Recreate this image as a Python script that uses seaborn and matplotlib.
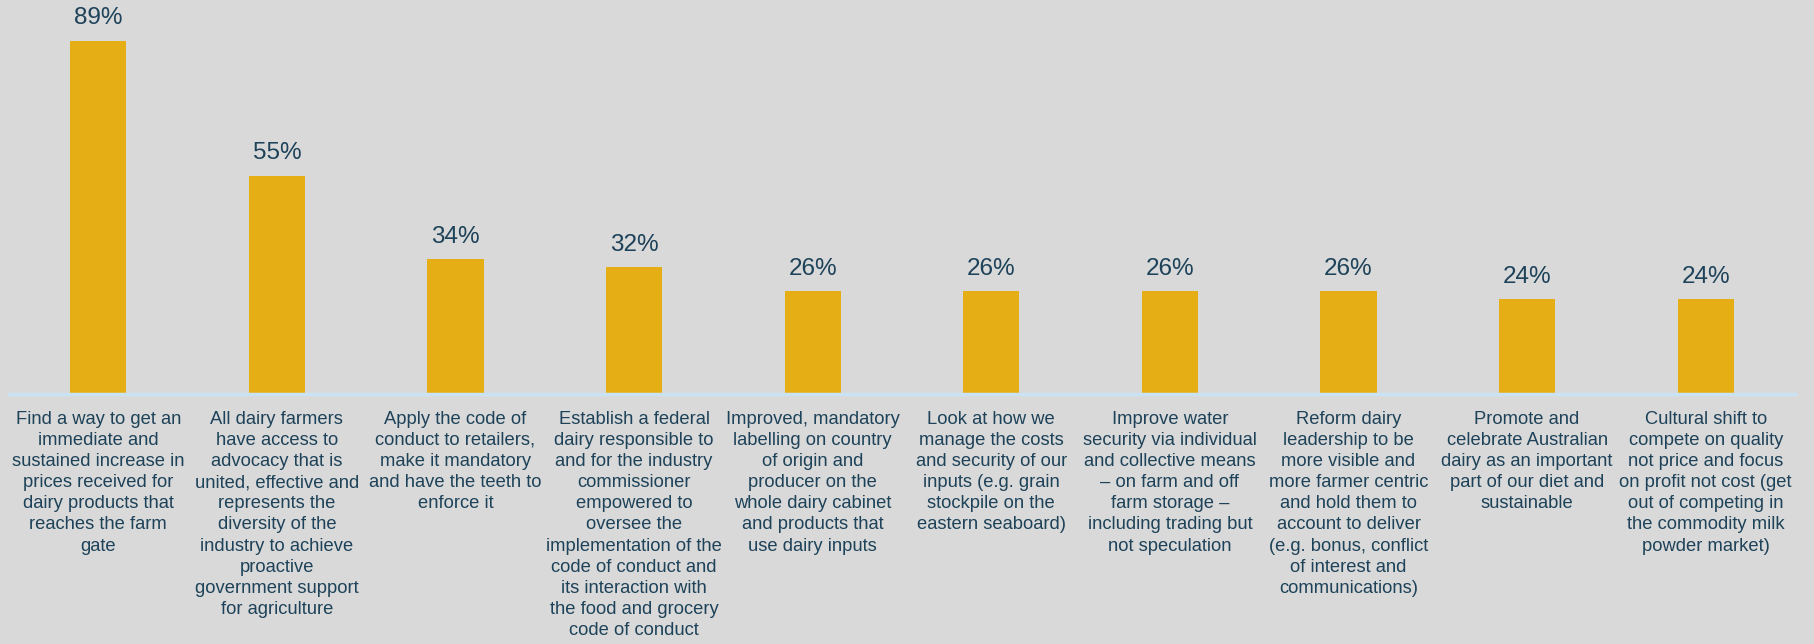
import matplotlib
matplotlib.use("Agg")
import matplotlib.pyplot as plt
import seaborn as sns
import pandas as pd

categories = [
    "Find a way to get an\nimmediate and\nsustained increase in\nprices received for\ndairy products that\nreaches the farm\ngate",
    "All dairy farmers\nhave access to\nadvocacy that is\nunited, effective and\nrepresents the\ndiversity of the\nindustry to achieve\nproactive\ngovernment support\nfor agriculture",
    "Apply the code of\nconduct to retailers,\nmake it mandatory\nand have the teeth to\nenforce it",
    "Establish a federal\ndairy responsible to\nand for the industry\ncommissioner\nempowered to\noversee the\nimplementation of the\ncode of conduct and\nits interaction with\nthe food and grocery\ncode of conduct",
    "Improved, mandatory\nlabelling on country\nof origin and\nproducer on the\nwhole dairy cabinet\nand products that\nuse dairy inputs",
    "Look at how we\nmanage the costs\nand security of our\ninputs (e.g. grain\nstockpile on the\neastern seaboard)",
    "Improve water\nsecurity via individual\nand collective means\n– on farm and off\nfarm storage –\nincluding trading but\nnot speculation",
    "Reform dairy\nleadership to be\nmore visible and\nmore farmer centric\nand hold them to\naccount to deliver\n(e.g. bonus, conflict\nof interest and\ncommunications)",
    "Promote and\ncelebrate Australian\ndairy as an important\npart of our diet and\nsustainable",
    "Cultural shift to\ncompete on quality\nnot price and focus\non profit not cost (get\nout of competing in\nthe commodity milk\npowder market)",
]
values = [89, 55, 34, 32, 26, 26, 26, 26, 24, 24]

BG = "#d9d9d9"
BAR = "#e5ae14"
TXT = "#1d4259"
AXIS = "#c9e3f5"

sns.set_theme(style="white")
plt.rcParams["font.family"] = ["Liberation Sans", "DejaVu Sans"]

df = pd.DataFrame({"cat": categories, "val": values})

fig = plt.figure(figsize=(18.14, 6.44), dpi=100, facecolor=BG)
ax = fig.add_axes([9 / 1814, 250 / 644, 1786 / 1814, 394 / 644])
ax.set_facecolor(BG)

sns.barplot(data=df, x="cat", y="val", color=BAR, width=0.314, ax=ax,
            saturation=1, edgecolor="none")

ax.set_xlim(-0.5, len(values) - 0.5)
ax.set_ylim(0, 99.2)
ax.set_xlabel("")
ax.set_ylabel("")
ax.set_yticks([])

for c in ax.containers:
    ax.bar_label(c, labels=[f"{v}%" for v in values], padding=8,
                 fontsize=17.5, color=TXT)

for s in ["top", "left", "right"]:
    ax.spines[s].set_visible(False)
ax.spines["bottom"].set_color(AXIS)
ax.spines["bottom"].set_linewidth(2.5)

ax.tick_params(axis="x", length=0, pad=12)
for lab in ax.get_xticklabels():
    lab.set_fontsize(13.2)
    lab.set_color(TXT)
    lab.set_linespacing(1.32)
    lab.set_horizontalalignment("center")

fig.savefig("out.png", dpi=100, facecolor=BG)
